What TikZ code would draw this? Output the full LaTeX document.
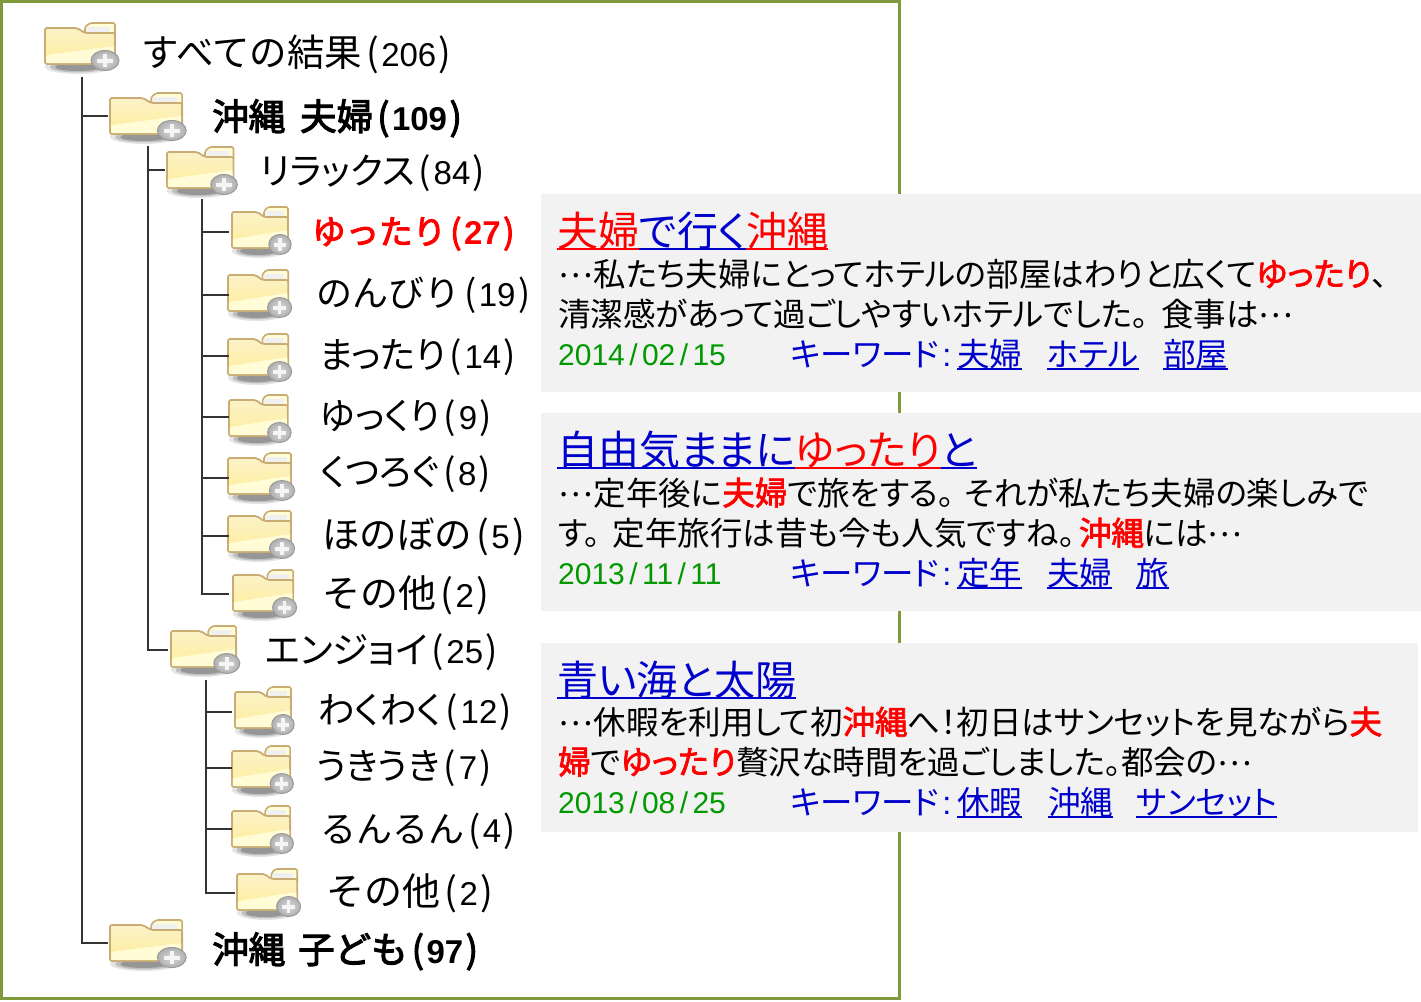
\documentclass[tikz,border=0pt]{standalone}
\usepackage{fontspec}
\setmainfont{Noto Sans CJK JP}
\newfontfamily\pf[RawFeature=+palt]{Noto Sans CJK JP}
\newfontfamily\fbf[FakeBold=2.2,RawFeature=+palt]{Noto Sans CJK JP}
\newfontfamily\fbn[FakeBold=3]{Noto Sans CJK JP}
\newfontfamily\dgf{Liberation Sans}
\definecolor{frameg}{HTML}{7F9A3C}
\definecolor{panelg}{HTML}{F2F2F2}
\definecolor{linkb}{HTML}{0000CC}
\definecolor{hitr}{HTML}{FF0000}
\definecolor{dateg}{HTML}{009900}
\definecolor{treel}{HTML}{333333}
\definecolor{foldedge}{HTML}{C8AC74}
\definecolor{foldtop}{HTML}{FBF3C8}
\definecolor{foldmid}{HTML}{FFEC9A}
\definecolor{foldpale}{HTML}{FFFCD6}
\newcommand{\ulx}[1]{\setbox0=\hbox{#1}\rlap{\rule[-4pt]{\wd0}{2pt}}\box0 }
\newcommand{\hit}[1]{\textcolor{hitr}{\fbf #1}}
\newcommand{\elp}{\raisebox{8.5pt}{…}\kern1pt}
\newcommand{\cnt}[1]{\kern4pt(\kern2.5pt{\fontsize{33}{33}\dgf #1}\kern2.5pt)}
\newcommand{\cntb}[1]{\kern4pt(\kern2.5pt{\fontsize{33}{33}\dgf\bfseries #1}\kern2.5pt)}
\newcommand{\dtx}[3]{{\dgf #1\kern4.4pt/\kern4.4pt#2\kern4.4pt/\kern4.4pt#3}}
\newcommand{\kwl}{キーワード\kern3pt{\dgf :}}
\newcommand{\folder}[5]{%
 % name, left, top, x scale, branch end (x,y)
 \coordinate (#1) at (#5);
 \begin{scope}[shift={(#2,#3)},xscale=#4]
  \fill[black,opacity=.10] (33,45) ellipse (33 and 7);
  \fill[black,opacity=.16] (33,45) ellipse (28 and 5.5);
  \fill[black,opacity=.22] (33,45) ellipse (23 and 4);
  \draw[foldedge,line width=1.6pt,fill=foldpale,rounded corners=1.5pt] (40,5) -- (45,1) -- (70,1) -- (70,14) -- (40,14) -- cycle;
  \fill[gray!12] (42,5) rectangle (65,11);
  \draw[foldedge,line width=1.8pt,rounded corners=2pt,top color=foldtop,bottom color=foldmid]
     (0,6) -- (32,6) -- (40,11) -- (70,11) -- (70,42) -- (0,42) -- cycle;
  \fill[foldpale,rounded corners=1pt] (1,33) -- (69,24) -- (69,41) -- (1,41) -- cycle;
  \draw[gray!80,line width=1pt,inner color=gray!30,outer color=gray!62] (60,38.5) ellipse (14 and 10);
  \fill[white!92!gray] (58,32) rectangle (62,45);
  \fill[white!92!gray] (52,36.5) rectangle (68,40.5);
 \end{scope}}
\tikzset{
 frameb/.style={draw=frameg,line width=3pt},
 panel/.style={fill=panelg,draw=none},
 tree/.style={draw=treel,line width=2pt},
 tl/.style={anchor=base west,inner sep=0pt,font=\fontsize{36}{36}\selectfont},
 tp/.style={tl,font=\fontsize{36.5}{36.5}\pf},
 tb/.style={tl,font=\fontsize{36.5}{36.5}\fbn},
 ttl/.style={anchor=base west,inner sep=0pt,font=\fontsize{41}{41}\pf,text=linkb},
 body/.style={anchor=base west,inner sep=0pt,font=\fontsize{32.5}{33}\pf},
 dt/.style={anchor=base west,inner sep=0pt,font=\fontsize{30}{30}\selectfont,text=dateg},
 kw/.style={anchor=base west,inner sep=0pt,font=\fontsize{32.5}{33}\pf,text=linkb},
}
\begin{document}
\begin{tikzpicture}[x=1pt,y=-1pt]
\useasboundingbox (0,0) rectangle (1421,1001);
\draw[frameb] (1.5,1.5) rectangle (899,998.5);
\fill[panel] (541,194) rectangle (1421,392);
\fill[panel] (541,413) rectangle (1421,611);
\fill[panel] (541,643) rectangle (1418,832);

% folders
\folder{f0}{45}{22}{1}{105,50}
\folder{f1}{110}{92}{1.03}{108,116}
\folder{f2}{167}{146}{.95}{165,170}
\folder{f3}{232}{206}{.8}{229,232}
\folder{f4}{228}{269}{.86}{229,295}
\folder{f5}{228}{333}{.86}{229,356}
\folder{f6}{229}{394}{.84}{229,417}
\folder{f7}{228}{452}{.9}{229,478}
\folder{f8}{228}{510}{.9}{229,536}
\folder{f9}{233}{569}{.86}{229,594}
\folder{f10}{171}{625}{.93}{168,650}
\folder{f11}{235}{686}{.8}{232,712}
\folder{f12}{232}{745}{.83}{232,768}
\folder{f13}{232}{805}{.83}{232,829}
\folder{f14}{237}{868}{.86}{235,893}
\folder{f15}{110}{919}{1.03}{108,943}

% connectors
\coordinate (r0) at (82,77);
\coordinate (r1) at (148,146);
\coordinate (r2) at (202,199);
\coordinate (r3) at (206,680);
\draw[tree] (r0) |- (f1);
\draw[tree] (r0) |- (f15);
\draw[tree] (r1) |- (f2);
\draw[tree] (r1) |- (f10);
\foreach \n in {f3,f4,f5,f6,f7,f8,f9} {\draw[tree] (r2) |- (\n);}
\foreach \n in {f11,f12,f13,f14} {\draw[tree] (r3) |- (\n);}

% tree labels
\node[tl] (l0) at (141,66) {\fontsize{37.5}{37.5}\selectfont すべての結果\cnt{206}};
\node[tb] (l1) at (212,130) {沖縄\kern15pt 夫婦\cntb{109}};
\node[tp] (l2) at (260,184) {リラックス\cnt{84}};
\node[tl,text=hitr] (l3) at (312,244) {\fontsize{33.5}{33.5}\fbn ゆったり\cntb{27}};
\node[tl] (l4) at (316,306) {のんびり\cnt{19}};
\node[tp] (l5) at (319,368) {まったり\cnt{14}};
\node[tp] (l6) at (320,429) {ゆっくり\cnt{9}};
\node[tp] (l7) at (320,485) {くつろぐ\cnt{8}};
\node[tl] (l8) at (322,548) {\fontsize{37.5}{37.5}\selectfont ほのぼの\cnt{5}};
\node[tl] (l9) at (322,607) {\fontsize{38}{38}\selectfont その他\cnt{2}};
\node[tp] (l10) at (265,663) {エンジョイ\cnt{25}};
\node[tp] (l11) at (318,723) {わくわく\cnt{12}};
\node[tp] (l12) at (316,779) {うきうき\cnt{7}};
\node[tl] (l13) at (320,842) {るんるん\cnt{4}};
\node[tl] (l14) at (326,905) {\fontsize{38}{38}\selectfont その他\cnt{2}};
\node[tb] (l15) at (212,963) {沖縄\kern13pt 子ども\cntb{97}};

% panel 1
\node[ttl] (a0) at (557,246) {\textcolor{hitr}{\ulx{夫婦}}\ulx{で行く}\textcolor{hitr}{\ulx{沖縄}}};
\node[body] (a1) at (558,286) {\elp 私たち夫婦にとってホテルの部屋はわりと広くて\hit{ゆったり}、};
\node[body] (a2) at (558,326) {清潔感があって過ごしやすいホテルでした。\kern13pt 食事は\elp};
\node[dt] (a3) at (558,365) {\dtx{2014}{02}{15}};
\node[kw] (a4) at (790,366) {\kwl};
\node[kw] (a5) at (957,366) {\ulx{夫婦}};
\node[kw] (a6) at (1047,366) {\ulx{ホテル}};
\node[kw] (a7) at (1163,366) {\ulx{部屋}};

% panel 2
\node[ttl] (b0) at (557,465) {\ulx{自由気ままに}\textcolor{hitr}{\ulx{ゆったり}}\ulx{と}};
\node[body] (b1) at (558,505) {\elp 定年後に\hit{夫婦}で旅をする。\kern10pt それが私たち夫婦の楽しみで};
\node[body] (b2) at (558,545) {す。\kern12pt 定年旅行は昔も今も人気ですね。\kern4pt \hit{沖縄}には\elp};
\node[dt] (b3) at (558,584) {\dtx{2013}{11}{11}};
\node[kw] (b4) at (790,585) {\kwl};
\node[kw] (b5) at (957,585) {\ulx{定年}};
\node[kw] (b6) at (1047,585) {\ulx{夫婦}};
\node[kw] (b7) at (1136,585) {\ulx{旅}};

% panel 3
\node[ttl] (c0) at (557,695) {\ulx{青い海と太陽}};
\node[body] (c1) at (558,734) {\elp 休暇を利用して初\hit{沖縄}へ！初日はサンセットを見ながら\hit{夫}};
\node[body] (c2) at (558,774) {\hit{婦}で\hit{ゆったり}贅沢な時間を過ごしました。都会の\elp};
\node[dt] (c3) at (558,813) {\dtx{2013}{08}{25}};
\node[kw] (c4) at (790,814) {\kwl};
\node[kw] (c5) at (957,814) {\ulx{休暇}};
\node[kw] (c6) at (1048,814) {\ulx{沖縄}};
\node[kw] (c7) at (1136,814) {\ulx{サンセット}};
\end{tikzpicture}
\end{document}
